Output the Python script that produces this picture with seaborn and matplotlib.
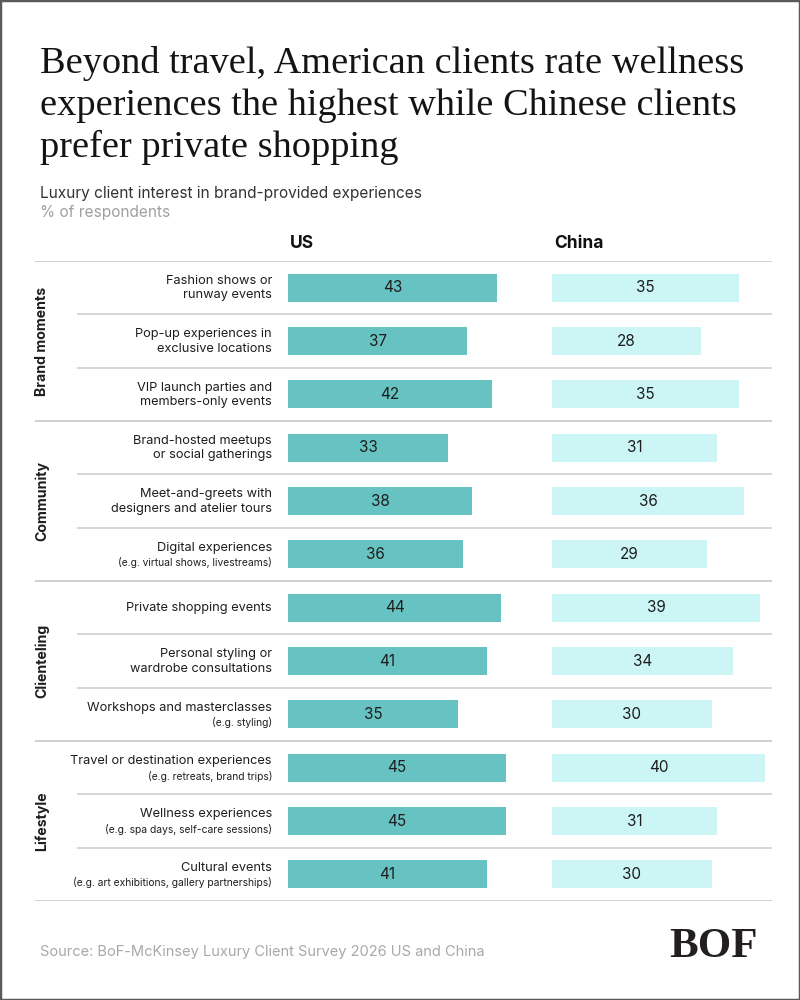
import matplotlib
matplotlib.use("Agg")
import matplotlib.pyplot as plt
from matplotlib.patches import Rectangle
import seaborn as sns
import pandas as pd

# ---------------- data ----------------
groups = ["Brand moments", "Community", "Clienteling", "Lifestyle"]
group_sizes = [3, 3, 3, 3]
labels_main = [
    "Fashion shows or\nrunway events",
    "Pop-up experiences in\nexclusive locations",
    "VIP launch parties and\nmembers-only events",
    "Brand-hosted meetups\nor social gatherings",
    "Meet-and-greets with\ndesigners and atelier tours",
    "Digital experiences",
    "Private shopping events",
    "Personal styling or\nwardrobe consultations",
    "Workshops and masterclasses",
    "Travel or destination experiences",
    "Wellness experiences",
    "Cultural events",
]
labels_sub = [
    "", "", "", "", "",
    "(e.g. virtual shows, livestreams)",
    "", "",
    "(e.g. styling)",
    "(e.g. retreats, brand trips)",
    "(e.g. spa days, self-care sessions)",
    "(e.g. art exhibitions, gallery partnerships)",
]
us_values = [43, 37, 42, 33, 38, 36, 44, 41, 35, 45, 45, 41]
china_values = [35, 28, 35, 31, 36, 29, 39, 34, 30, 40, 31, 30]
series_names = ["US", "China"]

title_lines = [
    "Beyond travel, American clients rate wellness",
    "experiences the highest while Chinese clients",
    "prefer private shopping",
]
subtitle = "Luxury client interest in brand-provided experiences"
unit_note = "% of respondents"
source = "Source: BoF-McKinsey Luxury Client Survey 2026 US and China"
logo = "BOF"

df = pd.DataFrame({
    "item": [f"{i}" for i in range(len(us_values))],
    "US": us_values,
    "China": china_values,
})

# ---------------- style ----------------
sns.set_theme(style="white")
SANS = ["Inter", "DejaVu Sans"]
SERIF = ["Liberation Serif", "DejaVu Serif"]
plt.rcParams["font.family"] = SANS

US_COLOR = "#67C2C2"
CN_COLOR = "#CCF5F5"
TXT = "#1e1e1e"
LINE = "#cdcdcd"

W, H = 800, 1000
fig = plt.figure(figsize=(8, 10), dpi=100)
fig.patch.set_facecolor("white")

def fx(px):
    return px / W

def fy(py):
    return 1 - py / H

TOP, BOT = 261, 901
n = len(us_values)
row_px = (BOT - TOP) / n

# background axes for separators and labels (x in pixels)
bg = fig.add_axes([0, fy(BOT), 1, (BOT - TOP) / H])
bg.set_xlim(0, W)
bg.set_ylim(n - 0.5, -0.5)
bg.axis("off")

group_bounds = [0]
for s in group_sizes:
    group_bounds.append(group_bounds[-1] + s)

for k in range(n + 1):
    y = k - 0.5
    if k in group_bounds:
        bg.plot([35, 772], [y, y], color=LINE, lw=1.3, solid_capstyle="butt")
    else:
        bg.plot([77, 772], [y, y], color=LINE, lw=1.1, solid_capstyle="butt")

# row labels
for i, (m, s) in enumerate(zip(labels_main, labels_sub)):
    if s:
        bg.text(272, i - 6.8 / row_px, m, ha="right", va="center",
                fontsize=9.2, color=TXT)
        bg.text(272, i + 8.6 / row_px, s, ha="right", va="center",
                fontsize=7.4, color=TXT)
    else:
        bg.text(272, i + 0.5 / row_px, m, ha="right", va="center",
                fontsize=9.2, color=TXT, linespacing=1.25)

# group labels
for g, a, b in zip(groups, group_bounds[:-1], group_bounds[1:]):
    bg.text(42, (a + b - 1) / 2, g, rotation=90, ha="center", va="center",
            fontsize=10.2, fontweight="bold", color=TXT)

# bar panels
panels = [
    ("US", US_COLOR, 288, 232, 4.85),
    ("China", CN_COLOR, 552, 220, 5.33),
]
for col, color, left, width, scale in panels:
    ax = fig.add_axes([fx(left), fy(BOT), width / W, (BOT - TOP) / H])
    ax.patch.set_alpha(0)
    sns.barplot(data=df, x=col, y="item", color=color, saturation=1,
                width=0.53, linewidth=0, ax=ax, orient="h")
    ax.set_xlim(0, width / scale)
    ax.set_ylim(n - 0.5, -0.5)
    ax.bar_label(ax.containers[0], label_type="center", fontsize=11,
                 color=TXT)
    ax.axis("off")
    fig.text(fx(left + 2), fy(243), col, ha="left", va="center",
             fontsize=12.5, fontweight="bold", color="#111")

# title
for j, line in enumerate(title_lines):
    fig.text(fx(40), fy(73 + 42 * j), line, ha="left", va="baseline",
             fontsize=27.6, family=SERIF, color="#141414")

fig.text(fx(40), fy(193), subtitle, ha="left", va="center",
         fontsize=11.1, color="#333333")
fig.text(fx(40), fy(213), unit_note, ha="left", va="center",
         fontsize=11.1, color="#a0a0a0")

fig.text(fx(40), fy(952), source, ha="left", va="center",
         fontsize=10.55, color="#a8a8a8")
fig.text(fx(758), fy(957), logo, ha="right", va="baseline",
         fontsize=31, fontweight="bold", family=SERIF, color="#231f20")

fig.patches.append(Rectangle((0, 0), 1, 1, transform=fig.transFigure,
                             fill=False, edgecolor="#5a5a5a", lw=2.5))

fig.savefig("out.png", dpi=100)
